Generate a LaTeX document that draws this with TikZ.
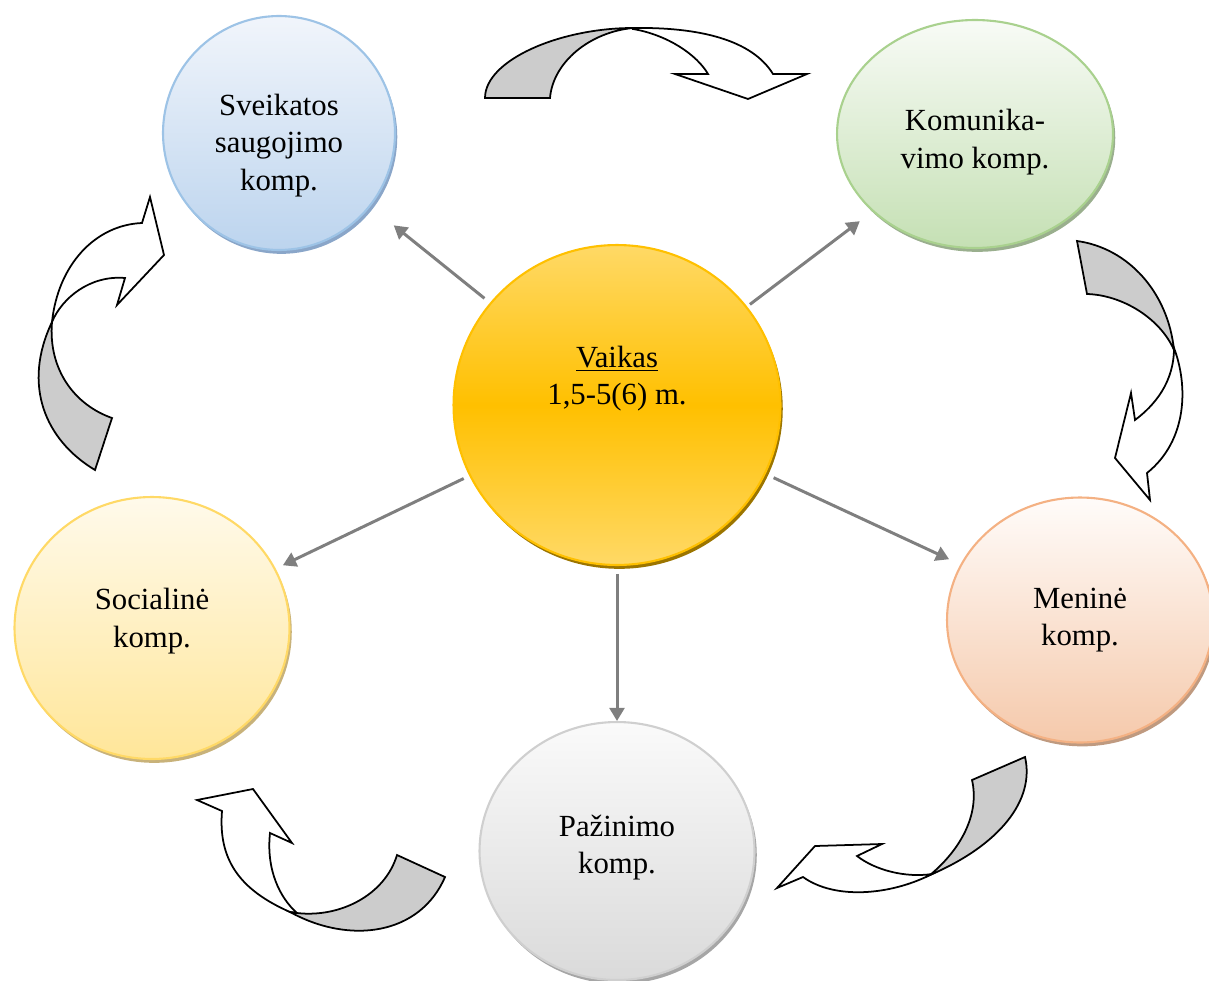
\documentclass[tikz,border=0pt]{standalone}
\usepackage{fontspec}
\setmainfont{Liberation Serif}
\usepackage{xcolor}
\usepackage{tikz}
\usetikzlibrary{shapes.geometric, arrows.meta, shadows}

\definecolor{linkgray}{HTML}{7F7F7F}
\definecolor{kidtop}{HTML}{FFD966}
\definecolor{kidmid}{HTML}{FFC000}
\definecolor{kidline}{HTML}{FFC000}
\definecolor{kidshade}{HTML}{9C7500}
\definecolor{healthtop}{HTML}{F1F5FB}
\definecolor{healthbot}{HTML}{BCD4EE}
\definecolor{healthline}{HTML}{9DC3E6}
\definecolor{healthshade}{HTML}{8AA6C9}
\definecolor{commtop}{HTML}{F8FBF6}
\definecolor{commbot}{HTML}{C5E0B4}
\definecolor{commline}{HTML}{A9D18E}
\definecolor{commshade}{HTML}{9AAF8E}
\definecolor{arttop}{HTML}{FFFCFA}
\definecolor{artbot}{HTML}{F5C9AB}
\definecolor{artline}{HTML}{F4B183}
\definecolor{artshade}{HTML}{BF9A80}
\definecolor{cogntop}{HTML}{FAFAFA}
\definecolor{cognbot}{HTML}{DADADA}
\definecolor{cognline}{HTML}{CFCFCF}
\definecolor{cognshade}{HTML}{A6A6A6}
\definecolor{socialtop}{HTML}{FFFAEB}
\definecolor{socialbot}{HTML}{FFE699}
\definecolor{socialline}{HTML}{FFD966}
\definecolor{socialshade}{HTML}{C8B27A}

\begin{document}
\begin{tikzpicture}[x=0.02cm, y=-0.02cm]
    % Stiliai
    \tikzset{
        comp/.style    = {ellipse, line width=1.2pt, inner sep=0pt},
        undershadow/.style = {general shadow={fill=#1, shadow xshift=1.3pt, shadow yshift=-2.2pt}},
        caption/.style = {font=\fontsize{17.5}{21.3}\selectfont, align=center, text=black},
        link/.style    = {draw=linkgray, line width=1.7pt, -{Triangle[length=7.5pt, width=8.5pt]}},
        turn/.style    = {draw=black, line width=1pt, fill=white},
        turnback/.style = {turn, fill=black!20}
    }

    \useasboundingbox (0,0) rectangle (1209,980);

    % Vidurinis apskritimas
    \node [comp, draw=kidline, top color=kidtop, bottom color=kidtop, middle color=kidmid,
           undershadow=kidshade, minimum width=6.54cm, minimum height=6.4cm,
           label={[caption, yshift=15pt]center:{\underline{Vaikas}\\1,5-5(6) m.}}] (kid) at (617,405) {};

    % Kompetencijos
    \node [comp, draw=healthline, top color=healthtop, bottom color=healthbot,
           undershadow=healthshade, minimum width=4.64cm, minimum height=4.68cm,
           label={[caption, yshift=-7pt]center:{Sveikatos\\saugojimo\\komp.}}] (health) at (279,133) {};
    \node [comp, draw=commline, top color=commtop, bottom color=commbot,
           undershadow=commshade, minimum width=5.52cm, minimum height=4.56cm,
           label={[caption, yshift=-4.5pt]center:{Komunika-\\vimo komp.}}] (comm) at (975,134) {};
    \node [comp, draw=artline, top color=arttop, bottom color=artbot,
           undershadow=artshade, minimum width=5.32cm, minimum height=4.9cm,
           label={[caption]center:{Meninė\\komp.}}] (art) at (1080,620) {};
    \node [comp, draw=cognline, top color=cogntop, bottom color=cognbot,
           undershadow=cognshade, minimum width=5.5cm, minimum height=5.16cm,
           label={[caption, yshift=2pt]center:{Pažinimo\\komp.}}] (cogn) at (617,851) {};
    \node [comp, draw=socialline, top color=socialtop, bottom color=socialbot,
           undershadow=socialshade, minimum width=5.5cm, minimum height=5.24cm,
           label={[caption, yshift=4pt]center:{Socialinė\\komp.}}] (social) at (152,628) {};

    % Rodyklės nuo vaiko
    \draw [link, shorten <=4pt, shorten >=17pt] (kid) -- (health);
    \draw [link, shorten <=2pt, shorten >=9pt] (kid) -- (comm);
    \draw [link, shorten <=5pt, shorten >=7pt] (kid) -- (art);
    \draw [link, shorten <=4.5pt, shorten >=0pt] (kid) -- (cogn);
    \draw [link, shorten <=3.5pt, shorten >=4.5pt] (kid) -- (social);

    % Lenktos rodyklės tarp kompetencijų
    % viršuje
    \path [turn] (633,29) .. controls (668,35) and (697,55) .. (708,74) -- (675,74) -- (748,99)
        -- (807,74) -- (773,74) .. controls (752,40) and (700,27) .. (633,28) -- cycle;
    \path [turnback] (485,98) .. controls (485,60) and (560,28) .. (633,28)
        .. controls (590,32) and (553,62) .. (550,98) -- cycle;
    % dešinėje
    \path [turn] (1174,348) .. controls (1174,382) and (1155,405) .. (1135,420) -- (1131,393)
        -- (1115,458) -- (1150,500) -- (1147,473) .. controls (1188,440) and (1188,385) .. (1174,348) -- cycle;
    \path [turnback] (1077,241) .. controls (1128,248) and (1168,292) .. (1174,350)
        .. controls (1160,318) and (1122,295) .. (1087,294) -- cycle;
    % apačioje dešinėje
    \path [turn] (930,875) .. controls (890,895) and (835,900) .. (803,877) -- (777,888)
        -- (815,846) -- (882,844) -- (857,856) .. controls (875,870) and (905,878) .. (932,874) -- cycle;
    \path [turnback] (1025,757) .. controls (1035,800) and (1000,845) .. (930,875)
        .. controls (960,850) and (980,815) .. (972,780) -- cycle;
    % apačioje kairėje
    \path [turn] (290,912) .. controls (240,890) and (218,860) .. (222,811) -- (197,800)
        -- (253,789) -- (292,843) -- (270,833) .. controls (266,870) and (280,898) .. (297,913) -- cycle;
    \path [turnback] (445,877) .. controls (420,935) and (350,945) .. (290,912) -- (297,913)
        .. controls (340,918) and (385,895) .. (397,855) -- cycle;
    % kairėje
    \path [turn] (52,322) .. controls (58,265) and (95,225) .. (142,223) -- (150,197)
        -- (164,255) -- (117,305) -- (125,278) .. controls (90,275) and (62,298) .. (52,322) -- cycle;
    \path [turnback] (95,470) .. controls (45,440) and (22,385) .. (52,322)
        .. controls (48,370) and (75,405) .. (112,418) -- cycle;
\end{tikzpicture}
\end{document}
